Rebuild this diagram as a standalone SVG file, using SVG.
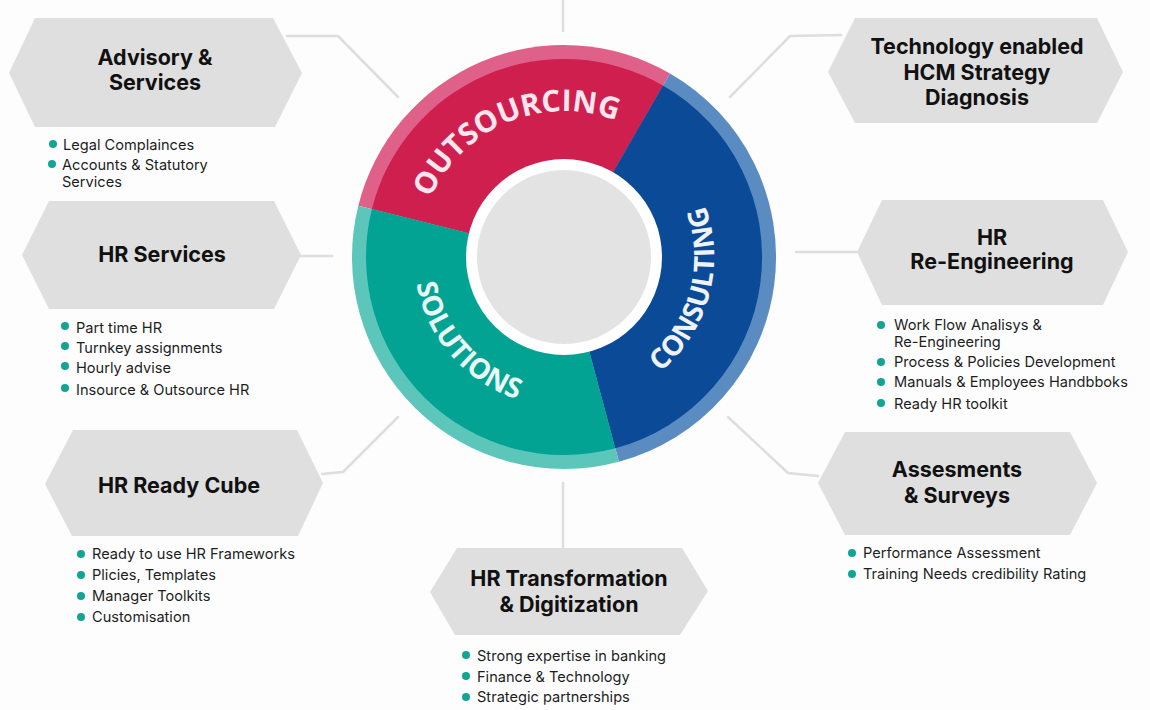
<svg xmlns="http://www.w3.org/2000/svg" width="1150" height="710" viewBox="0 0 1150 710">
  <style>
    .hex { fill: #DFDFDF; }
    .head { font-family: Inter, "Open Sans", "DejaVu Sans", sans-serif; font-weight: 700; font-size: 21.5px; fill: #111111; text-anchor: middle; }
    .item { font-family: Inter, "Open Sans", "DejaVu Sans", sans-serif; font-weight: 400; font-size: 14.6px; fill: #1E1E1E; }
    .dot { fill: #12A594; }
    .conn { fill: none; stroke: #DEDEDE; stroke-width: 2.5; stroke-linecap: round; stroke-linejoin: round; }
    .ring { font-family: "Open Sans", "DejaVu Sans", sans-serif; font-weight: 700; font-size: 28px; }
  </style>
  <defs>
    <path id="arcOut" d="M420.2,232.3 A146,146 0 0 1 647.7,137.4"/>
    <path id="arcCon" d="M602.8,401.9 A150,150 0 0 0 670.1,150.9"/>
    <path id="arcSol" d="M422.2,208.2 A150,150 0 0 0 592.6,404.2"/>
  </defs>
  <rect width="1150" height="710" fill="#FDFDFD"/>

  <g id="connectors">
    <polyline class="conn" points="287,36 338,36 398,97"/>
    <polyline class="conn" points="841,35 790,36 730,97"/>
    <line class="conn" x1="300" y1="256" x2="332" y2="256"/>
    <line class="conn" x1="796" y1="252" x2="857" y2="252"/>
    <polyline class="conn" points="398,417 343,472 322,474"/>
    <polyline class="conn" points="728,417 788,473 818,476"/>
    <line class="conn" x1="563" y1="0" x2="563" y2="31"/>
    <line class="conn" x1="563" y1="483" x2="563" y2="547"/>
  </g>

  <g id="wheel">
    <path d="M564,257 L358.3,205.7 A212,212 0 0 1 670,73.4 Z" fill="#DF6189"/>
    <path d="M564,257 L670,73.4 A212,212 0 0 1 618.9,461.8 Z" fill="#5B8CC1"/>
    <path d="M564,257 L618.9,461.8 A212,212 0 0 1 358.3,205.7 Z" fill="#5DC6BA"/>
    <path d="M564,257 L371.9,209.1 A198,198 0 0 1 663,85.5 Z" fill="#CF1F4F"/>
    <path d="M564,257 L663,85.5 A198,198 0 0 1 615.2,448.3 Z" fill="#0B4A96"/>
    <path d="M564,257 L615.2,448.3 A198,198 0 0 1 371.9,209.1 Z" fill="#03A393"/>
    <circle cx="564" cy="257" r="98" fill="#FFFFFF"/>
    <circle cx="564" cy="257" r="87" fill="#E3E3E3"/>
    <text class="ring" fill="#FBE6EE" style="font-size:30px"><textPath href="#arcOut" startOffset="50%" text-anchor="middle" textLength="222" lengthAdjust="spacing">OUTSOURCING</textPath></text>
    <text class="ring" fill="#EEF2FA"><textPath href="#arcCon" startOffset="50%" text-anchor="middle">CONSULTING</textPath></text>
    <text class="ring" fill="#E8F8F5"><textPath href="#arcSol" startOffset="50%" text-anchor="middle">SOLUTIONS</textPath></text>
  </g>

  <g id="node-advisory">
    <polygon class="hex" points="35,18 273,18 302,73 275,127 35,127 9,73"/>
    <text class="head" x="155" y="65">Advisory &amp;</text>
    <text class="head" x="155" y="90">Services</text>
    <circle class="dot" cx="53" cy="144" r="4"/>
    <circle class="dot" cx="52" cy="164" r="4"/>
    <text class="item" x="63" y="150">Legal Complainces</text>
    <text class="item" x="62" y="170">Accounts &amp; Statutory</text>
    <text class="item" x="62" y="187">Services</text>
  </g>

  <g id="node-technology">
    <polygon class="hex" points="855,18 1097,18 1123,72 1097,123 855,123 828,72"/>
    <text class="head" x="977" y="54">Technology enabled</text>
    <text class="head" x="977" y="80">HCM Strategy</text>
    <text class="head" x="977" y="105">Diagnosis</text>
  </g>

  <g id="node-hr-services">
    <polygon class="hex" points="49,201 274,201 301,255 274,309 49,309 22,255"/>
    <text class="head" x="162" y="262">HR Services</text>
    <circle class="dot" cx="65" cy="326" r="4"/>
    <circle class="dot" cx="65" cy="346" r="4"/>
    <circle class="dot" cx="65" cy="366" r="4"/>
    <circle class="dot" cx="65" cy="388" r="4"/>
    <text class="item" x="76" y="333">Part time HR</text>
    <text class="item" x="76" y="353">Turnkey assignments</text>
    <text class="item" x="76" y="373">Hourly advise</text>
    <text class="item" x="76" y="395">Insource &amp; Outsource HR</text>
  </g>

  <g id="node-hr-reengineering">
    <polygon class="hex" points="882,200 1103,200 1128,252 1103,305 882,305 857,252"/>
    <text class="head" x="992" y="245">HR</text>
    <text class="head" x="992" y="269">Re-Engineering</text>
    <circle class="dot" cx="881" cy="325" r="4"/>
    <circle class="dot" cx="881" cy="362" r="4"/>
    <circle class="dot" cx="881" cy="382" r="4"/>
    <circle class="dot" cx="881" cy="403" r="4"/>
    <text class="item" x="894" y="330">Work Flow Analisys &amp;</text>
    <text class="item" x="894" y="347">Re-Engineering</text>
    <text class="item" x="894" y="367">Process &amp; Policies Development</text>
    <text class="item" x="894" y="387">Manuals &amp; Employees Handbboks</text>
    <text class="item" x="894" y="409">Ready HR toolkit</text>
  </g>

  <g id="node-hr-ready-cube">
    <polygon class="hex" points="73,430 297,430 323,483 298,536 72,536 45,484"/>
    <text class="head" x="179" y="493">HR Ready Cube</text>
    <circle class="dot" cx="81" cy="554" r="4"/>
    <circle class="dot" cx="81" cy="575" r="4"/>
    <circle class="dot" cx="81" cy="596" r="4"/>
    <circle class="dot" cx="81" cy="617" r="4"/>
    <text class="item" x="92" y="559">Ready to use HR Frameworks</text>
    <text class="item" x="92" y="580">Plicies, Templates</text>
    <text class="item" x="92" y="601">Manager Toolkits</text>
    <text class="item" x="92" y="622">Customisation</text>
  </g>

  <g id="node-assessments">
    <polygon class="hex" points="845,432 1070,432 1097,483 1070,535 845,535 818,483"/>
    <text class="head" x="957" y="477">Assesments</text>
    <text class="head" x="957" y="503">&amp; Surveys</text>
    <circle class="dot" cx="852" cy="553" r="4"/>
    <circle class="dot" cx="852" cy="574" r="4"/>
    <text class="item" x="863" y="558">Performance Assessment</text>
    <text class="item" x="863" y="579">Training Needs credibility Rating</text>
  </g>

  <g id="node-hr-transformation">
    <polygon class="hex" points="457,548 682,548 708,591 680,635 455,635 430,592"/>
    <text class="head" x="569" y="586">HR Transformation</text>
    <text class="head" x="569" y="612">&amp; Digitization</text>
    <circle class="dot" cx="466" cy="655" r="4"/>
    <circle class="dot" cx="466" cy="676" r="4"/>
    <circle class="dot" cx="466" cy="697" r="4"/>
    <text class="item" x="477" y="661">Strong expertise in banking</text>
    <text class="item" x="477" y="682">Finance &amp; Technology</text>
    <text class="item" x="477" y="702">Strategic partnerships</text>
  </g>
</svg>
